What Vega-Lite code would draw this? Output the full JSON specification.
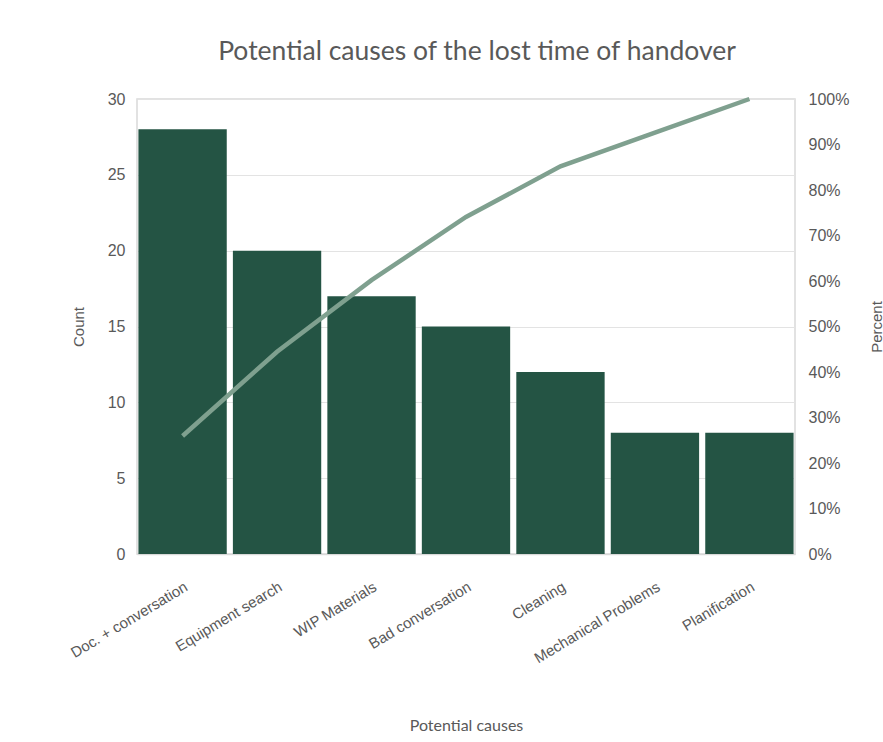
{
  "$schema": "https://vega.github.io/schema/vega-lite/v6.json",
  "width": 658,
  "height": 455,
  "autosize": {"type": "none"},
  "padding": {"left": 137, "top": 99, "right": 88, "bottom": 188},
  "background": "white",
  "title": {
    "text": "Potential causes of the lost time of handover",
    "font": "Lato",
    "fontSize": 26.5,
    "fontWeight": "normal",
    "color": "#595959",
    "anchor": "middle",
    "dx": 11,
    "offset": 25
  },
  "data": {
    "values": [
      {"cause": "Doc. + conversation", "count": 28, "cumpct": 0.2593},
      {"cause": "Equipment search", "count": 20, "cumpct": 0.4444},
      {"cause": "WIP Materials", "count": 17, "cumpct": 0.6019},
      {"cause": "Bad conversation", "count": 15, "cumpct": 0.7407},
      {"cause": "Cleaning", "count": 12, "cumpct": 0.8519},
      {"cause": "Mechanical Problems", "count": 8, "cumpct": 0.9259},
      {"cause": "Planification", "count": 8, "cumpct": 1.0}
    ]
  },
  "encoding": {
    "x": {
      "field": "cause",
      "type": "nominal",
      "sort": null,
      "scale": {"paddingInner": 0.065, "paddingOuter": 0.015},
      "axis": {
        "title": "Potential causes",
        "titleFont": "Lato",
        "titleFontSize": 16,
        "titleFontWeight": "normal",
        "titleColor": "#595959",
        "titlePadding": 52,
        "labelAngle": -31,
        "labelFont": "Liberation Sans",
        "labelFontSize": 15,
        "labelColor": "#595959",
        "labelPadding": 25,
        "ticks": false,
        "domainColor": "#d9d9d9",
        "domainWidth": 1.5
      }
    }
  },
  "layer": [
    {
      "mark": {"type": "bar", "color": "#245444"},
      "encoding": {
        "y": {
          "field": "count",
          "type": "quantitative",
          "scale": {"domain": [0, 30], "nice": false},
          "axis": {
            "title": "Count",
            "titleFont": "Liberation Sans",
            "titleFontSize": 15,
            "titleFontWeight": "normal",
            "titleColor": "#595959",
            "titlePadding": 21,
            "values": [0, 5, 10, 15, 20, 25, 30],
            "labelFont": "Liberation Sans",
            "labelFontSize": 16,
            "labelColor": "#595959",
            "labelPadding": 12,
            "ticks": false,
            "domain": false,
            "grid": true,
            "gridColor": "#e3e3e3",
            "gridWidth": 1
          }
        }
      }
    },
    {
      "mark": {"type": "line", "color": "#7fa08f", "strokeWidth": 4.5},
      "encoding": {
        "y": {
          "field": "cumpct",
          "type": "quantitative",
          "scale": {"domain": [0, 1], "nice": false},
          "axis": {
            "orient": "right",
            "title": "Percent",
            "titleAngle": 270,
            "titleFont": "Liberation Sans",
            "titleFontSize": 15,
            "titleFontWeight": "normal",
            "titleColor": "#595959",
            "titlePadding": 36,
            "format": ".0%",
            "values": [0, 0.1, 0.2, 0.3, 0.4, 0.5, 0.6, 0.7, 0.8, 0.9, 1.0],
            "labelFont": "Liberation Sans",
            "labelFontSize": 16,
            "labelColor": "#595959",
            "labelPadding": 13,
            "ticks": false,
            "domain": false,
            "grid": false
          }
        }
      }
    }
  ],
  "resolve": {"scale": {"y": "independent"}},
  "config": {
    "view": {"stroke": "#d9d9d9", "strokeWidth": 1.5}
  }
}
